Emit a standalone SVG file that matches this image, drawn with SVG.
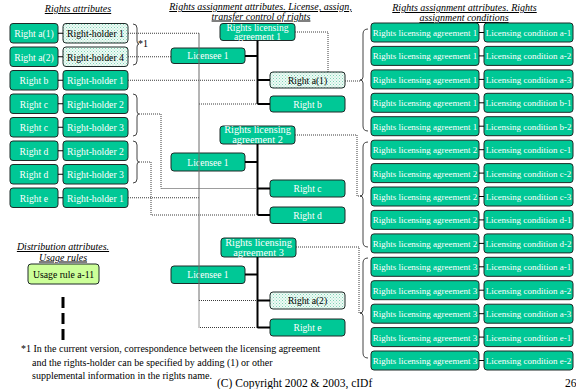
<svg xmlns="http://www.w3.org/2000/svg" width="576" height="389" viewBox="0 0 576 389">
  <defs>
    <pattern id="dots" width="3" height="3" patternUnits="userSpaceOnUse">
      <rect width="3" height="3" fill="#eefaf5"/>
      <rect x="0" y="0" width="1" height="1" fill="#7fd4b6"/>
      <rect x="1.5" y="1.5" width="1" height="1" fill="#9fe0c8"/>
    </pattern>
  </defs>
  <style>
    text { font-family: "Liberation Serif", "Times New Roman", serif; }
    .g { fill: #00c896; stroke: #1f2a28; stroke-width: 1; }
    .p { fill: url(#dots); stroke: #1f2a28; stroke-width: 1; }
    .u { fill: #ccff99; stroke: #1f2a28; stroke-width: 1; }
    .w { fill: #ffffff; text-anchor: middle; }
    .k { fill: #000000; text-anchor: middle; }
    .s10 { font-size: 9.7px; }
    .s9 { font-size: 9px; }
    .s95 { font-size: 9.6px; }
    .s105 { font-size: 10.3px; }
    .hd { font-size: 10px; font-style: italic; text-anchor: middle; text-decoration: underline; fill: #000; }
    .note { font-size: 10px; fill: #000; }
    .dot { fill: none; stroke: #3a3a3a; stroke-width: 1; stroke-dasharray: 1 1; }
    .trunk { fill: none; stroke: #000; stroke-width: 2; }
    .tie { fill: none; stroke: #000; stroke-width: 1; }
    .brace { fill: none; stroke: #444; stroke-width: 1; }
  </style>

  <!-- headings -->
  <g id="headings">
    <text class="hd" x="78" y="12">Rights attributes</text>
    <text class="hd" x="260.5" y="10">Rights assignment attributes. License, assign,</text>
    <text class="hd" x="261" y="19.5">transfer control of rights</text>
    <text class="hd" x="464.5" y="11">Rights assignment attributes. Rights</text>
    <text class="hd" x="464" y="21">assignment conditions</text>
    <text class="hd" x="63" y="250">Distribution attributes.</text>
    <text class="hd" x="63" y="260.5">Usage rules</text>
  </g>

  <!-- rights and their holders -->
  <g id="right-a1"><rect class="g" x="10" y="23.5" width="48" height="19.5" rx="3"/><text class="w s10" x="34" y="37">Right a(1)</text></g>
  <g id="holder-a1"><rect class="p" x="63" y="23.5" width="65" height="19.5" rx="3"/><text class="k s10" x="95.5" y="37">Right-holder 1</text></g>
  <g id="right-a2"><rect class="g" x="10" y="47" width="48" height="19.5" rx="3"/><text class="w s10" x="34" y="60.5">Right a(2)</text></g>
  <g id="holder-a2"><rect class="p" x="63" y="47" width="65" height="19.5" rx="3"/><text class="k s10" x="95.5" y="60.5">Right-holder 4</text></g>
  <g id="right-b"><rect class="g" x="10" y="70.5" width="48" height="19.5" rx="3"/><text class="w s10" x="34" y="84">Right b</text></g>
  <g id="holder-b"><rect class="g" x="63" y="70.5" width="65" height="19.5" rx="3"/><text class="w s10" x="95.5" y="84">Right-holder 1</text></g>
  <g id="right-c1"><rect class="g" x="10" y="94" width="48" height="19.5" rx="3"/><text class="w s10" x="34" y="107.5">Right c</text></g>
  <g id="holder-c1"><rect class="g" x="63" y="94" width="65" height="19.5" rx="3"/><text class="w s10" x="95.5" y="107.5">Right-holder 2</text></g>
  <g id="right-c2"><rect class="g" x="10" y="117.5" width="48" height="19.5" rx="3"/><text class="w s10" x="34" y="131">Right c</text></g>
  <g id="holder-c2"><rect class="g" x="63" y="117.5" width="65" height="19.5" rx="3"/><text class="w s10" x="95.5" y="131">Right-holder 3</text></g>
  <g id="right-d1"><rect class="g" x="10" y="141" width="48" height="19.5" rx="3"/><text class="w s10" x="34" y="154.5">Right d</text></g>
  <g id="holder-d1"><rect class="g" x="63" y="141" width="65" height="19.5" rx="3"/><text class="w s10" x="95.5" y="154.5">Right-holder 2</text></g>
  <g id="right-d2"><rect class="g" x="10" y="164.5" width="48" height="19.5" rx="3"/><text class="w s10" x="34" y="178">Right d</text></g>
  <g id="holder-d2"><rect class="g" x="63" y="164.5" width="65" height="19.5" rx="3"/><text class="w s10" x="95.5" y="178">Right-holder 3</text></g>
  <g id="right-e"><rect class="g" x="10" y="188" width="48" height="19.5" rx="3"/><text class="w s10" x="34" y="201.5">Right e</text></g>
  <g id="holder-e"><rect class="g" x="63" y="188" width="65" height="19.5" rx="3"/><text class="w s10" x="95.5" y="201.5">Right-holder 1</text></g>

  <!-- usage rule -->
  <g id="usage-rule"><rect class="u" x="28" y="264" width="71" height="20" rx="3"/><text class="k s10" x="63.5" y="277.5">Usage rule a-11</text></g>

  <!-- licensing agreements, licensees and licensed rights -->
  <g id="agreement-1"><rect class="g" x="220" y="23.5" width="75" height="17" rx="3"/><text class="w s95" x="257.5" y="30.5">Rights licensing</text><text class="w s95" x="257.5" y="40">agreement 1</text></g>
  <g id="licensee-1"><rect class="g" x="171" y="48" width="74" height="15.5" rx="3"/><text class="w s95" x="208" y="59">Licensee 1</text></g>
  <g id="mid-right-a1"><rect class="p" x="270" y="72" width="75" height="16" rx="3"/><text class="k s95" x="307.5" y="83.5">Right a(1)</text></g>
  <g id="mid-right-b"><rect class="g" x="270" y="96" width="75" height="16" rx="3"/><text class="w s95" x="307.5" y="107.5">Right b</text></g>

  <g id="agreement-2"><rect class="g" x="220" y="126" width="75" height="18" rx="3"/><text class="w s105" x="257.5" y="133">Rights licensing</text><text class="w s105" x="257.5" y="143">agreement 2</text></g>
  <g id="licensee-2"><rect class="g" x="171" y="153" width="74" height="18" rx="3"/><text class="w s95" x="208" y="165.5">Licensee 1</text></g>
  <g id="mid-right-c"><rect class="g" x="270" y="180" width="75" height="17" rx="3"/><text class="w s95" x="307.5" y="192">Right c</text></g>
  <g id="mid-right-d"><rect class="g" x="270" y="207" width="75" height="16.5" rx="3"/><text class="w s95" x="307.5" y="218.5">Right d</text></g>

  <g id="agreement-3"><rect class="g" x="221" y="238" width="75" height="19" rx="3"/><text class="w s105" x="258.5" y="246">Rights licensing</text><text class="w s105" x="258.5" y="255.5">agreement 3</text></g>
  <g id="licensee-3"><rect class="g" x="171" y="266" width="74" height="17.5" rx="3"/><text class="w s95" x="208" y="278">Licensee 1</text></g>
  <g id="mid-right-a2"><rect class="p" x="270" y="292" width="75" height="17" rx="3"/><text class="k s95" x="307.5" y="304">Right a(2)</text></g>
  <g id="mid-right-e"><rect class="g" x="270" y="319" width="75" height="17" rx="3"/><text class="w s95" x="307.5" y="331">Right e</text></g>

  <!-- agreements and licensing conditions -->
  <g id="cond-1-a1"><rect class="g" x="371" y="23" width="108" height="19" rx="3"/><text class="w s9" x="425" y="36">Rights licensing agreement 1</text><rect class="g" x="484" y="23" width="89" height="19" rx="3"/><text class="w s9" x="528.5" y="36">Licensing condition a-1</text></g>
  <g id="cond-1-a2"><rect class="g" x="371" y="46.4" width="108" height="19" rx="3"/><text class="w s9" x="425" y="59.4">Rights licensing agreement 1</text><rect class="g" x="484" y="46.4" width="89" height="19" rx="3"/><text class="w s9" x="528.5" y="59.4">Licensing condition a-2</text></g>
  <g id="cond-1-a3"><rect class="g" x="371" y="69.9" width="108" height="19" rx="3"/><text class="w s9" x="425" y="82.9">Rights licensing agreement 1</text><rect class="g" x="484" y="69.9" width="89" height="19" rx="3"/><text class="w s9" x="528.5" y="82.9">Licensing condition a-3</text></g>
  <g id="cond-1-b1"><rect class="g" x="371" y="93.3" width="108" height="19" rx="3"/><text class="w s9" x="425" y="106.3">Rights licensing agreement 1</text><rect class="g" x="484" y="93.3" width="89" height="19" rx="3"/><text class="w s9" x="528.5" y="106.3">Licensing condition b-1</text></g>
  <g id="cond-1-b2"><rect class="g" x="371" y="116.7" width="108" height="19" rx="3"/><text class="w s9" x="425" y="129.7">Rights licensing agreement 1</text><rect class="g" x="484" y="116.7" width="89" height="19" rx="3"/><text class="w s9" x="528.5" y="129.7">Licensing condition b-2</text></g>
  <g id="cond-2-c1"><rect class="g" x="371" y="140.2" width="108" height="19" rx="3"/><text class="w s9" x="425" y="153.2">Rights licensing agreement 2</text><rect class="g" x="484" y="140.2" width="89" height="19" rx="3"/><text class="w s9" x="528.5" y="153.2">Licensing condition c-1</text></g>
  <g id="cond-2-c2"><rect class="g" x="371" y="163.6" width="108" height="19" rx="3"/><text class="w s9" x="425" y="176.6">Rights licensing agreement 2</text><rect class="g" x="484" y="163.6" width="89" height="19" rx="3"/><text class="w s9" x="528.5" y="176.6">Licensing condition c-2</text></g>
  <g id="cond-2-c3"><rect class="g" x="371" y="187" width="108" height="19" rx="3"/><text class="w s9" x="425" y="200">Rights licensing agreement 2</text><rect class="g" x="484" y="187" width="89" height="19" rx="3"/><text class="w s9" x="528.5" y="200">Licensing condition c-3</text></g>
  <g id="cond-2-d1"><rect class="g" x="371" y="210.4" width="108" height="19" rx="3"/><text class="w s9" x="425" y="223.4">Rights licensing agreement 2</text><rect class="g" x="484" y="210.4" width="89" height="19" rx="3"/><text class="w s9" x="528.5" y="223.4">Licensing condition d-1</text></g>
  <g id="cond-2-d2"><rect class="g" x="371" y="233.9" width="108" height="19" rx="3"/><text class="w s9" x="425" y="246.9">Rights licensing agreement 2</text><rect class="g" x="484" y="233.9" width="89" height="19" rx="3"/><text class="w s9" x="528.5" y="246.9">Licensing condition d-2</text></g>
  <g id="cond-3-a1"><rect class="g" x="371" y="257.3" width="108" height="19" rx="3"/><text class="w s9" x="425" y="270.3">Rights licensing agreement 3</text><rect class="g" x="484" y="257.3" width="89" height="19" rx="3"/><text class="w s9" x="528.5" y="270.3">Licensing condition a-1</text></g>
  <g id="cond-3-a2"><rect class="g" x="371" y="280.7" width="108" height="19" rx="3"/><text class="w s9" x="425" y="293.7">Rights licensing agreement 3</text><rect class="g" x="484" y="280.7" width="89" height="19" rx="3"/><text class="w s9" x="528.5" y="293.7">Licensing condition a-2</text></g>
  <g id="cond-3-a3"><rect class="g" x="371" y="304.2" width="108" height="19" rx="3"/><text class="w s9" x="425" y="317.2">Rights licensing agreement 3</text><rect class="g" x="484" y="304.2" width="89" height="19" rx="3"/><text class="w s9" x="528.5" y="317.2">Licensing condition a-3</text></g>
  <g id="cond-3-e1"><rect class="g" x="371" y="327.6" width="108" height="19" rx="3"/><text class="w s9" x="425" y="340.6">Rights licensing agreement 3</text><rect class="g" x="484" y="327.6" width="89" height="19" rx="3"/><text class="w s9" x="528.5" y="340.6">Licensing condition e-1</text></g>
  <g id="cond-3-e2"><rect class="g" x="371" y="351" width="108" height="19" rx="3"/><text class="w s9" x="425" y="364">Rights licensing agreement 3</text><rect class="g" x="484" y="351" width="89" height="19" rx="3"/><text class="w s9" x="528.5" y="364">Licensing condition e-2</text></g>

  <!-- connectors -->
  <g id="connectors">
    <!-- right / holder ties -->
    <path class="tie" d="M58,33.25H63M58,56.75H63M58,80.25H63M58,103.75H63M58,127.25H63M58,150.75H63M58,174.25H63M58,197.75H63"/>
    <!-- agreement / condition ties -->
    <path class="tie" d="M479,32.5H484M479,55.9H484M479,79.4H484M479,102.8H484M479,126.2H484M479,149.7H484M479,173.1H484M479,196.5H484M479,219.9H484M479,243.4H484M479,266.8H484M479,290.2H484M479,313.7H484M479,337.1H484M479,360.5H484"/>
    <!-- agreement trunks -->
    <path class="trunk" d="M257.5,40.5V104M245,56H257.5M257.5,80H270M257.5,104H270"/>
    <path class="trunk" d="M257.5,144V215M245,162H257.5M257.5,188.5H270M257.5,215H270"/>
    <path class="trunk" d="M257.5,257V328M245,274.5H257.5M257.5,300.5H270M257.5,327.5H270"/>
    <!-- holders to licensed rights -->
    <path class="dot" d="M128,33.25H199"/>
    <path class="dot" d="M128,56.75H171"/>
    <path class="dot" d="M128,80.25H256"/>
    <path class="dot" d="M199,104H256"/>
    <path class="dot" d="M128,197.75H199"/>
    <path class="dot" d="M199,300.5H256"/>
    <path class="dot" d="M199,300.5V327.5H256"/>
    <path class="dot" d="M139,114H161V188.5H256"/>
    <path class="dot" d="M139,162H151V215H256"/>
    <path fill="none" stroke="#6a6a6a" stroke-width="1" d="M199,33.25V300.5"/>
    <!-- agreements to condition groups -->
    <path class="dot" d="M295,32H328V72"/>
    <path class="dot" d="M345,81H361"/>
    <path class="dot" d="M295,135H357V196H362"/>
    <path class="dot" d="M296,247H359V313H362"/>
    <!-- distribution link -->
    <path fill="none" stroke="#000" stroke-width="3" stroke-dasharray="11 5" d="M63,297V340"/>
  </g>

  <!-- braces -->
  <g id="braces">
    <path class="brace" d="M133,24Q137,24 137,28V41Q137,44 139,44Q137,44 137,47V61Q137,65 133,65"/>
    <path class="brace" d="M133,94Q137,94 137,98V111Q137,114 139,114Q137,114 137,117V132Q137,136 133,136"/>
    <path class="brace" d="M133,141Q137,141 137,145V159Q137,162 139,162Q137,162 137,165V179Q137,183 133,183"/>
    <path class="brace" d="M368,29Q363,29 363,34V77Q363,80 360,80Q363,80 363,83V126Q363,131 368,131"/>
    <path class="brace" d="M368,142Q363,142 363,147V193Q363,196 360,196Q363,196 363,199V242Q363,247 368,247"/>
    <path class="brace" d="M368,258Q363,258 363,263V310Q363,313 360,313Q363,313 363,316V353Q363,358 368,358"/>
  </g>

  <!-- notes -->
  <g id="notes">
    <text class="note" x="138" y="47">*1</text>
    <text class="note" x="21" y="352">*1 In the current version, correspondence between the licensing agreement</text>
    <text class="note" x="32" y="365.5">and the rights-holder can be specified by adding (1) or other</text>
    <text class="note" x="32" y="378.5">supplemental information in the rights name.</text>
    <text x="217" y="387" font-size="11.5" fill="#000">(C) Copyright 2002 &amp; 2003, cIDf</text>
    <text x="565" y="387" font-size="11.5" fill="#000">26</text>
  </g>
</svg>
